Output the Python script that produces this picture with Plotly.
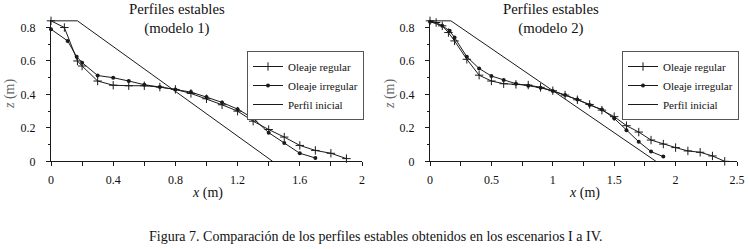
import plotly.graph_objects as go

# ---- data ----
left_reg_x = [0, 0.086, 0.17, 0.2, 0.3, 0.4, 0.5, 0.6, 0.7, 0.8, 0.9, 1.0, 1.1, 1.2, 1.3, 1.4, 1.5, 1.6, 1.7, 1.8, 1.9]
left_reg_z = [0.84, 0.80, 0.60, 0.57, 0.48, 0.455, 0.452, 0.452, 0.444, 0.43, 0.406, 0.374, 0.338, 0.30, 0.24, 0.19, 0.145, 0.095, 0.065, 0.048, 0.016]
left_irr_x = [0, 0.107, 0.165, 0.2, 0.3, 0.4, 0.5, 0.6, 0.7, 0.8, 0.9, 1.0, 1.1, 1.2, 1.3, 1.4, 1.5, 1.6, 1.7]
left_irr_z = [0.79, 0.72, 0.625, 0.59, 0.513, 0.50, 0.48, 0.458, 0.444, 0.43, 0.414, 0.384, 0.352, 0.312, 0.257, 0.171, 0.11, 0.048, 0.02]
left_init_x = [0, 0.17, 1.425]
left_init_z = [0.84, 0.84, 0]

right_reg_x = [0, 0.05, 0.1, 0.15, 0.2, 0.3, 0.4, 0.5, 0.6, 0.7, 0.8, 0.9, 1.0, 1.1, 1.2, 1.3, 1.4, 1.5, 1.6, 1.7, 1.8, 1.9, 2.0, 2.1, 2.2, 2.3, 2.4]
right_reg_z = [0.84, 0.83, 0.81, 0.77, 0.72, 0.61, 0.515, 0.48, 0.464, 0.46, 0.456, 0.442, 0.422, 0.396, 0.368, 0.34, 0.306, 0.267, 0.213, 0.175, 0.127, 0.103, 0.082, 0.062, 0.054, 0.032, 0.0]
right_irr_x = [0, 0.1, 0.16, 0.2, 0.3, 0.4, 0.5, 0.6, 0.7, 0.8, 0.9, 1.0, 1.1, 1.2, 1.3, 1.4, 1.5, 1.6, 1.7, 1.8, 1.9]
right_irr_z = [0.835, 0.81, 0.78, 0.74, 0.625, 0.555, 0.51, 0.486, 0.464, 0.452, 0.44, 0.42, 0.396, 0.37, 0.336, 0.31, 0.257, 0.185, 0.117, 0.058, 0.028]
right_init_x = [0, 0.17, 1.84]
right_init_z = [0.84, 0.84, 0]

series_names = ["Oleaje regular", "Oleaje irregular", "Perfil inicial"]
titles = ["Perfiles estables<br>(modelo 1)", "Perfiles estables<br>(modelo 2)"]
caption = "Figura 7. Comparación de los perfiles estables obtenidos en los escenarios I a IV."

FONT = "Liberation Serif"
LC = "#1a1a1a"
W, H = 749, 249

fig = go.Figure()

def add_set(rx, rz, ix, iz, nx, nz, xa, ya, leg):
    fig.add_trace(go.Scatter(x=rx, y=rz, name=series_names[0], mode="lines+markers",
                             line=dict(color=LC, width=1),
                             marker=dict(symbol="cross-thin", size=6, line=dict(color=LC, width=1)),
                             xaxis=xa, yaxis=ya, legend=leg, cliponaxis=False))
    fig.add_trace(go.Scatter(x=ix, y=iz, name=series_names[1], mode="lines+markers",
                             line=dict(color=LC, width=1),
                             marker=dict(symbol="circle", size=4, color=LC),
                             xaxis=xa, yaxis=ya, legend=leg, cliponaxis=False))
    fig.add_trace(go.Scatter(x=nx, y=nz, name=series_names[2], mode="lines",
                             line=dict(color=LC, width=1),
                             xaxis=xa, yaxis=ya, legend=leg, cliponaxis=False))

add_set(left_reg_x, left_reg_z, left_irr_x, left_irr_z, left_init_x, left_init_z, "x", "y", "legend")
add_set(right_reg_x, right_reg_z, right_irr_x, right_irr_z, right_init_x, right_init_z, "x2", "y2", "legend2")

ydom = [1 - 161.3 / H, 1 - 20 / H]
tickfont = dict(family=FONT, size=12, color="#111")

def xaxis(dom, rng, dt, mdt):
    return dict(domain=dom, range=rng, dtick=dt, tick0=0, showgrid=False, zeroline=False,
                automargin=False, showline=True, linecolor=LC, linewidth=1,
                ticks="outside", ticklen=4, tickcolor=LC, tickfont=tickfont, ticklabelstandoff=3,
                minor=dict(dtick=mdt, ticks="outside", ticklen=4, tickcolor=LC, showgrid=False))

def yaxis(anchor):
    return dict(domain=ydom, range=[0, 0.845], dtick=0.2, tick0=0, anchor=anchor,
                automargin=False, showgrid=False, zeroline=False, showline=True,
                linecolor=LC, linewidth=1,
                ticks="outside", ticklen=4, tickcolor=LC, tickfont=tickfont,
                ticklabelstandoff=8,
                minor=dict(dtick=0.1, ticks="outside", ticklen=2, tickcolor=LC, showgrid=False))

leg_common = dict(font=dict(family=FONT, size=11, color="#111"), bgcolor="white",
                  bordercolor="#555", borderwidth=1, xanchor="left", yanchor="top",
                  tracegroupgap=0, itemwidth=30)

fig.update_layout(
    template="none",
    font=dict(family=FONT, size=12, color="#111"),
    width=W, height=H, margin=dict(l=0, r=0, t=0, b=0, autoexpand=False),
    paper_bgcolor="white", plot_bgcolor="white",
    xaxis=xaxis([51 / W, 362 / W], [0, 2], 0.4, 0.2) | dict(anchor="y"),
    yaxis=yaxis("x"),
    xaxis2=xaxis([430 / W, 737 / W], [0, 2.5], 0.5, 0.25) | dict(anchor="y2"),
    yaxis2=yaxis("x2"),
    legend=leg_common | dict(x=247 / W, y=1 - 51 / H),
    legend2=leg_common | dict(x=622 / W, y=1 - 51 / H),
    showlegend=True,
)

ann = []
for xc, t in zip([177, 551], titles):
    ann.append(dict(text=t, x=xc / W, y=1 - 18.5 / H, xref="paper", yref="paper",
                    xanchor="center", yanchor="middle", showarrow=False,
                    font=dict(family=FONT, size=14.8, color="#111")))
for xc in [207, 584]:
    ann.append(dict(text="<i>x</i> (m)", x=xc / W, y=1 - 193 / H, xref="paper", yref="paper",
                    xanchor="center", yanchor="middle", showarrow=False,
                    font=dict(family=FONT, size=14, color="#111")))
for xc in [10, 390]:
    ann.append(dict(text="<i>z</i> (m)", x=xc / W, y=1 - 94 / H, xref="paper", yref="paper",
                    xanchor="center", yanchor="middle", showarrow=False, textangle=-90,
                    font=dict(family=FONT, size=14, color="#666")))
ann.append(dict(text=caption, x=375 / W, y=1 - 236 / H, xref="paper", yref="paper",
                xanchor="center", yanchor="middle", showarrow=False,
                font=dict(family=FONT, size=14, color="#111")))
fig.update_layout(annotations=ann)

fig.write_html("out.html", config={"displayModeBar": False},
               post_script="document.body.style.margin='0px';document.body.style.overflow='hidden';")
